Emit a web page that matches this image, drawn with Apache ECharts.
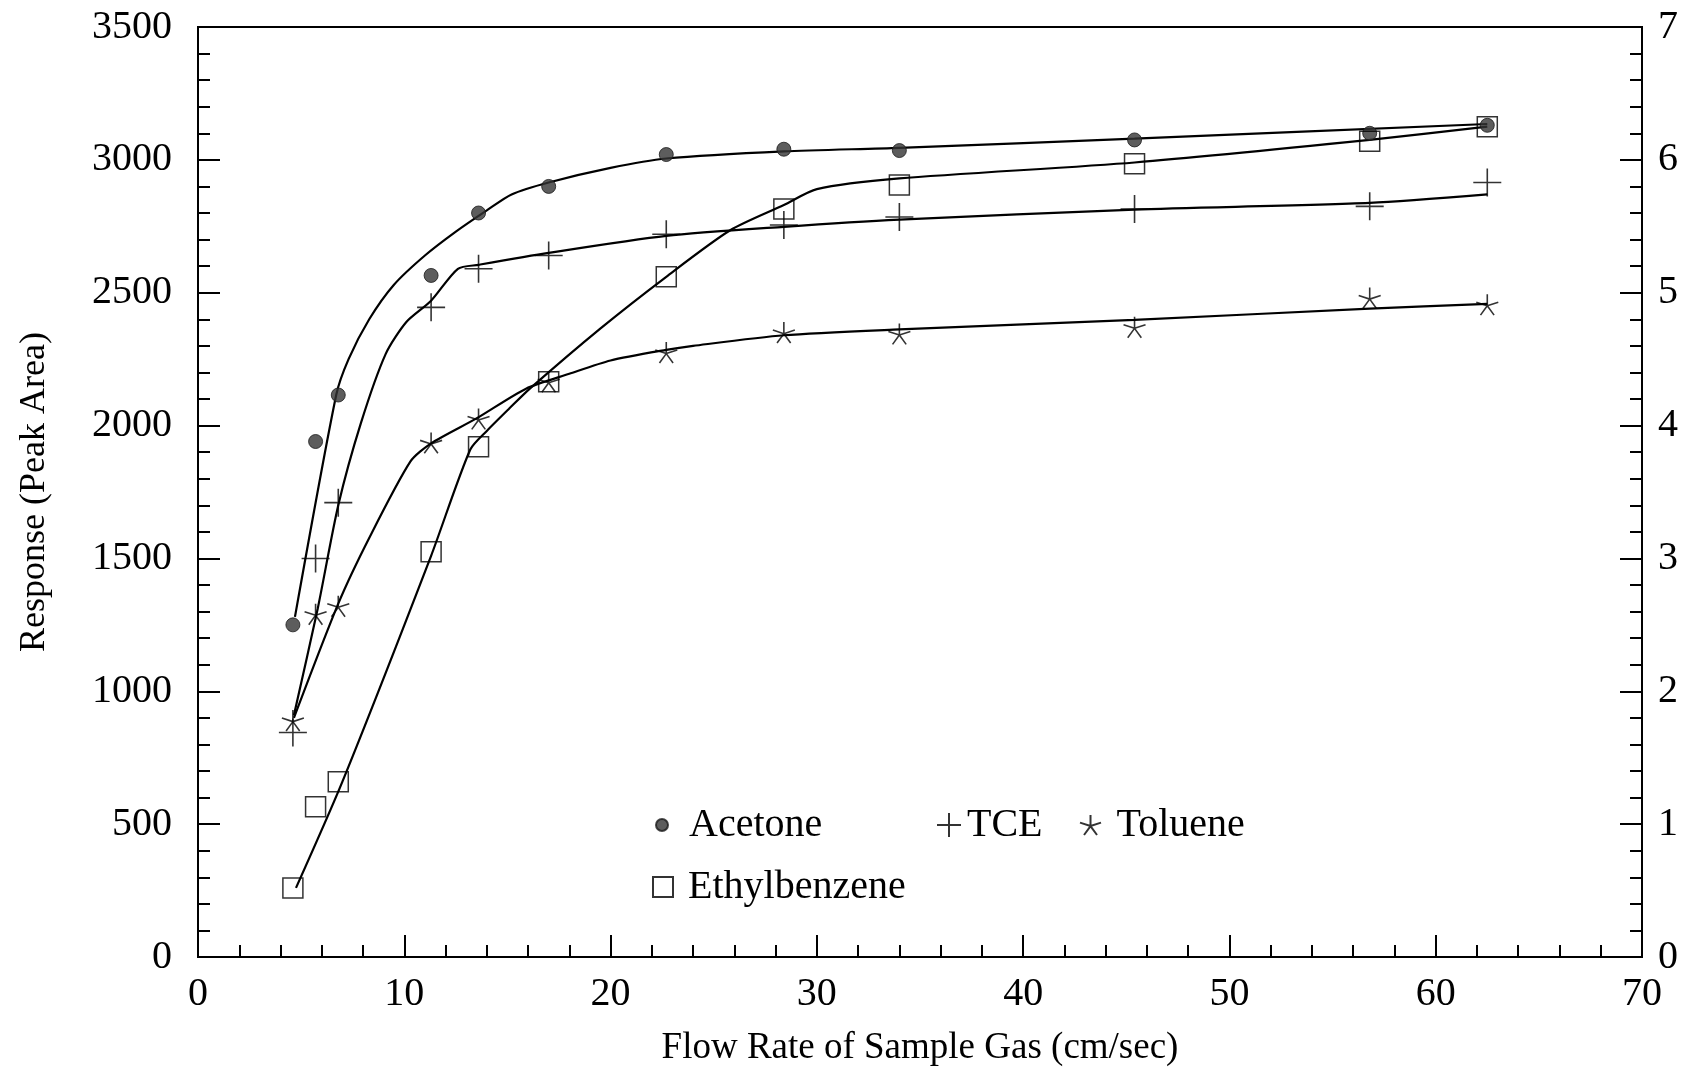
<!DOCTYPE html>
<html>
<head>
<meta charset="utf-8">
<script src="https://cdn.jsdelivr.net/npm/echarts@6/dist/echarts.min.js"></script>
<style>
  html, body { margin: 0; padding: 0; background: #fff; }
  #chart { width: 1695px; height: 1072px; }
</style>
</head>
<body>
<div id="chart"></div>
<script>
// Flow rate of sample gas (cm/sec) at which each compound was measured
const flowRate = [4.6, 5.7, 6.8, 11.3, 13.6, 17.0, 22.7, 28.4, 34.0, 45.4, 56.8, 62.5];

// Measured response (peak area)
const acetone      = [1250, 1940, 2115, 2565, 2800, 2900, 3020, 3040, 3035, 3075, 3100, 3130];
const tce          = [845, 1500, 1710, 2445, 2590, 2640, 2720, 2755, 2785, 2815, 2825, 2915];
const toluene      = [890, 1290, 1320, 1935, 2025, 2165, 2275, 2350, 2345, 2370, 2480, 2455];
const ethylbenzene = [260, 565, 660, 1525, 1920, 2165, 2560, 2815, 2905, 2985, 3070, 3125];

// Fitted response curves: [flow rate, peak area]
const acetoneFit = [[4.7, 1280], [6.7, 2115], [7.3, 2250], [8.3, 2400], [9.5, 2530], [11.0, 2640],
  [12.5, 2730], [14.0, 2810], [15.2, 2870], [17.0, 2915], [20.0, 2970], [22.7, 3005],
  [28.4, 3032], [34.0, 3045], [45.4, 3080], [62.5, 3135]];
const tceFit = [[4.65, 910], [5.8, 1310], [6.8, 1700], [7.9, 2010], [9.1, 2270], [10.1, 2390],
  [11.3, 2470], [12.6, 2590], [13.6, 2605], [17.0, 2650], [22.7, 2714], [28.4, 2748],
  [34.0, 2775], [45.4, 2813], [56.8, 2838], [62.5, 2870]];
const tolueneFit = [[4.65, 900], [6.8, 1330], [8.3, 1577], [10.3, 1865], [11.3, 1933], [13.5, 2027],
  [15.9, 2139], [18.0, 2195], [20.0, 2245], [22.7, 2285], [24.0, 2300], [28.4, 2340],
  [34.0, 2362], [45.4, 2398], [56.8, 2440], [62.5, 2458]];
const ethylbenzeneFit = [[4.75, 260], [7.0, 660], [11.3, 1510], [13.2, 1910], [14.0, 1980],
  [15.1, 2065], [16.1, 2140], [19.5, 2365], [22.7, 2560], [25.8, 2735], [28.4, 2830],
  [30.0, 2890], [34.0, 2930], [45.4, 2990], [56.8, 3075], [62.5, 3125]];

// Axis ranges: [min, max, labelled step, minor step]
const xRange = [0, 70, 10, 2];
const yRange = [0, 3500, 500, 100];
const y2Range = [0, 7, 1, 0.2];

const SERIF = "'Liberation Serif', 'Times New Roman', serif";
const INK = '#000';

const PLUS = 'path://M0,10L20,10M10,0L10,20';
const STAR = 'path://M10,10L10,0M10,10L19.51,6.91M10,10L0.49,6.91M10,10L4.12,18.09M10,10L15.88,18.09';

function pairs(xs, ys) { return xs.map((x, i) => [x, ys[i]]); }

function fitLine(data) {
  return {
    type: 'line', data: data, showSymbol: false, symbol: 'none', smooth: 0.25,
    silent: true, z: 2, lineStyle: { color: INK, width: 2.2 }
  };
}

// Labelled axis with long inward ticks
function majorAxis(range, position, margin) {
  return {
    type: 'value', position: position, min: range[0], max: range[1], interval: range[2],
    axisLine: { show: true, lineStyle: { color: INK, width: 2 } },
    axisTick: { show: true, inside: true, length: 22, lineStyle: { color: INK, width: 2 } },
    axisLabel: { fontSize: 40, color: INK, fontFamily: SERIF, margin: margin,
                 formatter: v => String(v) },
    splitLine: { show: false }
  };
}

// Companion axis carrying only the short inward ticks
function minorAxis(range, position) {
  return {
    type: 'value', position: position, min: range[0], max: range[1], interval: range[3],
    axisLine: { show: false },
    axisTick: { show: true, inside: true, length: 12, lineStyle: { color: INK, width: 2 } },
    axisLabel: { show: false },
    splitLine: { show: false }
  };
}

const legendText = { fontSize: 40, color: INK, fontFamily: SERIF };

const chart = echarts.init(document.getElementById('chart'), null, { renderer: 'canvas' });
chart.setOption({
  animation: false,
  backgroundColor: '#fff',
  textStyle: { fontFamily: SERIF, color: INK },
  grid: { left: 198, right: 53, top: 27, bottom: 115, show: true, outerBoundsMode: 'none',
          borderColor: INK, borderWidth: 2, backgroundColor: 'transparent' },
  xAxis: [
    Object.assign(majorAxis(xRange, 'bottom', 17), {
      name: 'Flow Rate of Sample Gas (cm/sec)', nameLocation: 'middle', nameGap: 73,
      nameTextStyle: { fontSize: 37, color: INK, fontFamily: SERIF }
    }),
    minorAxis(xRange, 'bottom')
  ],
  yAxis: [
    Object.assign(majorAxis(yRange, 'left', 26), {
      name: 'Response (Peak Area)', nameLocation: 'middle', nameGap: 145,
      nameTextStyle: { fontSize: 36, color: INK, fontFamily: SERIF }
    }),
    minorAxis(yRange, 'left'),
    majorAxis(y2Range, 'right', 16),
    minorAxis(y2Range, 'right')
  ],
  legend: [
    { data: ['Acetone'], left: 655, top: 805, padding: 0, itemWidth: 44, itemHeight: 12,
      selectedMode: false, textStyle: legendText },
    { data: ['TCE'], left: 936, top: 805, padding: 0, itemWidth: 26, itemHeight: 24,
      selectedMode: false, textStyle: legendText },
    { data: ['Toluene'], left: 1079, top: 805, padding: 0, itemWidth: 30, itemHeight: 20,
      selectedMode: false, textStyle: Object.assign({ padding: [0, 0, 0, 6] }, legendText) },
    { data: ['Ethylbenzene'], left: 652, top: 867, padding: 0, itemWidth: 20, itemHeight: 20,
      selectedMode: false, textStyle: Object.assign({ padding: [0, 0, 0, 10] }, legendText) }
  ],
  series: [
    fitLine(acetoneFit),
    fitLine(tceFit),
    fitLine(tolueneFit),
    fitLine(ethylbenzeneFit),
    { name: 'Acetone', type: 'scatter', data: pairs(flowRate, acetone), z: 3,
      symbol: 'circle', symbolSize: 14, symbolKeepAspect: true,
      itemStyle: { color: '#353535', borderColor: '#1a1a1a', borderWidth: 1 } },
    { name: 'TCE', type: 'scatter', data: pairs(flowRate, tce), z: 3,
      symbol: PLUS, symbolSize: 28, symbolKeepAspect: true,
      itemStyle: { color: 'transparent', borderColor: INK, borderWidth: 1.6 } },
    { name: 'Toluene', type: 'scatter', data: pairs(flowRate, toluene), z: 3,
      symbol: STAR, symbolSize: 22, symbolKeepAspect: true,
      itemStyle: { color: 'transparent', borderColor: INK, borderWidth: 1.6 } },
    { name: 'Ethylbenzene', type: 'scatter', data: pairs(flowRate, ethylbenzene), z: 3,
      symbol: 'rect', symbolSize: 20, symbolKeepAspect: true,
      itemStyle: { color: 'transparent', borderColor: INK, borderWidth: 1.5 } }
  ]
});
</script>
</body>
</html>
